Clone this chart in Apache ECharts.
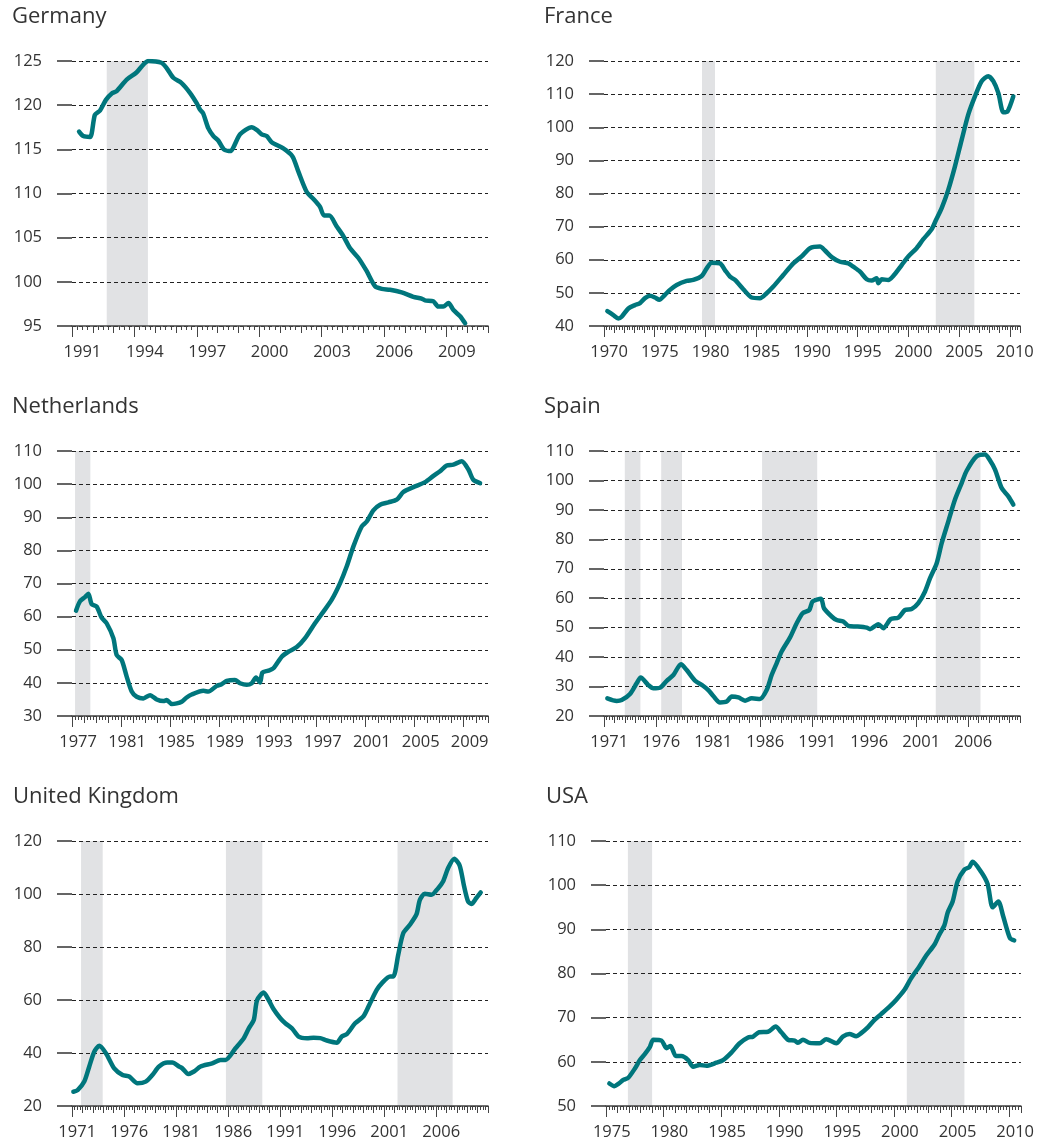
<!DOCTYPE html>
<html lang="en">
<head>
<meta charset="UTF-8">
<title>House price indices</title>
<script src="https://cdn.jsdelivr.net/npm/echarts@6/dist/echarts.min.js"></script>
<style>
  html, body { margin: 0; background: #fff; }
</style>
</head>
<body>
<div id="main" style="width:1037px;height:1144px;"></div>
<script>
// ---- data ----
const germanyYears = [1991.34,1991.54,1991.87,1992.1,1992.35,1992.63,1992.9,1993.15,1993.63,1994.1,1994.43,1994.67,1995.3,1995.55,1995.87,1996.27,1996.67,1997.0,1997.15,1997.3,1997.55,1997.8,1998.03,1998.3,1998.6,1999.08,1999.64,1999.88,2000.12,2000.36,2000.6,2001.16,2001.6,2001.88,2002.28,2002.6,2002.92,2003.12,2003.37,2003.72,2004.04,2004.37,2004.77,2005.17,2005.57,2005.89,2006.29,2006.85,2007.41,2007.81,2007.97,2008.37,2008.61,2008.85,2009.1,2009.34,2009.66,2009.9];
const germanyIndex = [117.0,116.5,116.4,118.9,119.4,120.6,121.3,121.6,122.9,123.7,124.6,125.0,124.8,124.2,123.1,122.5,121.4,120.2,119.5,119.1,117.4,116.5,116.0,115.0,114.8,116.7,117.5,117.2,116.7,116.5,115.8,115.1,114.2,112.5,110.2,109.4,108.5,107.5,107.5,106.3,105.2,103.8,102.7,101.2,99.5,99.2,99.1,98.8,98.3,98.1,97.9,97.8,97.2,97.2,97.6,96.8,96.1,95.3];
const germanyBands = [[1992.67, 1994.65]];

const franceYears = [1970.33,1970.92,1971.41,1971.74,1972.4,1973.05,1973.55,1974.04,1974.53,1975.03,1975.45,1976.01,1976.5,1977.16,1978.15,1978.8,1979.63,1980.12,1980.61,1981.43,1981.92,1982.42,1982.91,1983.73,1984.55,1985.37,1986.03,1986.69,1987.67,1988.66,1989.48,1990.3,1991.29,1991.78,1992.44,1993.26,1994.08,1994.57,1995.23,1995.89,1996.38,1996.87,1997.04,1997.37,1998.02,1998.51,1999.34,1999.99,2000.81,2001.47,2002.29,2002.72,2003.28,2003.93,2004.59,2005.25,2005.9,2006.56,2007.22,2007.88,2008.37,2008.87,2009.36,2009.78,2010.34];
const franceIndex = [44.5,43.3,42.3,42.8,45.3,46.3,46.9,48.4,49.1,48.6,47.9,49.4,50.9,52.4,53.6,53.9,55.1,57.4,59.1,58.9,56.9,54.9,53.9,51.1,48.6,48.4,49.9,51.9,55.4,58.9,61.0,63.5,64.0,62.8,60.8,59.4,58.9,57.9,56.4,54.1,53.7,54.4,52.9,54.1,53.9,55.1,58.4,61.0,63.5,66.2,69.2,72.0,75.6,81.1,88.2,96.2,103.8,109.3,113.9,115.4,113.9,110.3,104.5,104.8,109.3];
const franceBands = [[1979.66, 1980.94], [2002.7, 2006.5]];

const nlYears = [1977.33,1977.65,1978.06,1978.34,1978.6,1979.02,1979.42,1979.83,1980.38,1980.65,1981.06,1981.47,1981.88,1982.29,1982.83,1983.38,1983.92,1984.47,1984.74,1985.15,1985.56,1985.96,1986.37,1986.78,1987.74,1988.14,1988.83,1989.23,1989.64,1990.32,1990.73,1991.28,1991.69,1992.04,1992.37,1992.56,1993.05,1993.46,1994.14,1994.68,1995.37,1996.05,1996.86,1997.55,1998.23,1998.91,1999.45,2000.0,2000.68,2001.09,2001.63,2002.18,2002.86,2003.54,2004.08,2004.9,2005.86,2006.54,2007.08,2007.63,2008.17,2008.85,2009.4,2009.8,2010.35];
const nlIndex = [61.8,64.6,65.9,66.9,63.8,63.0,59.7,58.0,53.5,48.4,46.9,41.9,37.4,35.8,35.3,36.3,35.0,34.5,34.8,33.6,33.8,34.3,35.6,36.5,37.6,37.4,39.1,39.6,40.6,40.9,39.9,39.4,39.9,41.6,40.1,43.1,43.7,44.4,47.9,49.4,50.8,53.5,58.0,61.5,65.1,70.1,75.1,81.2,87.2,88.7,92.1,93.8,94.5,95.3,97.6,99.1,100.6,102.5,103.9,105.6,105.9,106.9,104.4,101.3,100.3];
const nlBands = [[1977.25, 1978.5]];

const spainYears = [1971.32,1972.22,1972.7,1973.5,1974.14,1974.53,1975.26,1975.74,1976.38,1977.03,1977.67,1978.4,1978.95,1979.75,1980.55,1981.03,1981.51,1982.15,1982.8,1983.28,1983.92,1984.56,1985.2,1986.0,1986.64,1987.12,1987.6,1988.08,1988.88,1989.53,1990.1,1990.74,1991.06,1991.87,1992.15,1992.89,1993.37,1994.01,1994.49,1995.29,1996.26,1996.58,1997.38,1997.86,1998.56,1999.3,1999.94,2000.58,2001.22,2001.87,2002.35,2002.99,2003.47,2004.11,2004.75,2005.39,2005.87,2006.83,2007.63,2008.12,2008.6,2009.24,2009.88,2010.36];
const spainIndex = [26.0,25.1,25.4,27.5,31.1,33.1,30.5,29.4,29.6,31.9,33.9,37.6,35.6,32.0,30.2,28.8,26.8,24.6,24.9,26.6,26.3,25.2,26.0,25.8,28.8,33.9,37.9,41.9,46.6,51.5,54.9,56.0,58.9,59.8,56.6,53.8,52.6,52.1,50.6,50.4,50.0,49.5,51.2,49.8,52.9,53.4,56.0,56.3,58.3,62.3,66.8,71.9,78.7,86.1,93.5,99.1,103.3,108.2,108.8,106.8,103.7,97.4,94.6,91.8];
const spainBands = [[1973.0, 1974.5], [1976.5, 1978.5], [1986.2, 1991.5], [2002.9, 2007.2]];

const ukYears = [1971.13,1971.54,1972.18,1972.66,1973.14,1973.62,1974.26,1975.06,1975.86,1976.5,1977.29,1978.09,1978.73,1979.37,1980.17,1980.65,1981.29,1981.61,1982.18,1982.73,1983.36,1984.48,1985.28,1985.76,1986.72,1987.52,1988.0,1988.48,1988.8,1989.43,1989.91,1990.39,1991.03,1991.51,1992.15,1992.79,1993.59,1994.23,1994.87,1995.5,1996.46,1996.94,1997.42,1998.22,1999.02,1999.66,2000.3,2000.78,2001.58,2001.9,2002.37,2002.85,2003.49,2004.13,2004.45,2004.93,2005.57,2006.21,2006.69,2007.17,2007.75,2008.28,2008.7,2009.08,2009.4,2009.88,2010.3];
const ukIndex = [25.4,26.0,29.2,34.9,40.5,42.7,39.9,34.2,31.7,31.1,28.6,29.2,31.7,34.9,36.4,36.4,34.9,34.2,32.1,33.0,34.9,36.1,37.4,37.4,41.8,45.6,49.3,52.5,60.0,62.8,60.0,56.5,53.1,51.2,49.3,46.2,45.6,45.8,45.6,44.7,43.9,46.2,47.1,51.2,53.8,58.8,63.8,66.3,68.9,68.9,77.1,85.2,88.4,92.4,97.8,100.1,99.7,102.2,104.8,109.8,113.3,110.7,102.9,97.2,96.2,98.5,100.6];
const ukBands = [[1971.87, 1973.95], [1985.8, 1989.3], [2002.3, 2007.6]];

const usaYears = [1975.29,1975.72,1976.07,1976.5,1976.93,1977.51,1977.94,1978.38,1978.81,1979.1,1979.82,1980.25,1980.6,1981.06,1981.55,1982.13,1982.56,1983.14,1983.72,1984.58,1985.16,1985.88,1986.6,1987.33,1987.76,1988.28,1989.06,1989.72,1990.21,1990.79,1991.37,1991.66,1992.09,1992.67,1993.53,1994.11,1994.98,1995.55,1996.13,1996.71,1997.14,1997.72,1998.3,1998.87,1999.6,2000.17,2000.9,2001.47,2002.19,2002.77,2003.49,2003.92,2004.36,2004.65,2005.08,2005.51,2006.09,2006.52,2006.81,2007.53,2008.11,2008.55,2009.04,2009.47,2010.05,2010.42];
const usaIndex = [55.1,54.5,55.0,55.9,56.4,58.5,60.4,61.8,63.4,65.0,64.8,63.1,63.6,61.3,61.3,60.4,58.9,59.3,59.1,59.8,60.4,62.1,64.2,65.5,65.7,66.7,66.8,68.0,66.7,65.0,64.8,64.3,65.0,64.3,64.2,65.1,64.2,65.7,66.3,65.8,66.5,67.8,69.5,70.8,72.5,74.0,76.3,78.9,81.6,84.0,86.5,88.8,90.9,93.8,96.3,100.9,103.5,104.1,105.3,103.1,100.3,95.0,96.3,92.9,88.0,87.5];
const usaBands = [[1976.9, 1979.0], [2001.1, 2006.1]];

// x tick labels (years)
const germanyLabels = [1991, 1994, 1997, 2000, 2003, 2006, 2009];
const franceLabels = [1970, 1975, 1980, 1985, 1990, 1995, 2000, 2005, 2010];
const nlLabels = [1977, 1981, 1985, 1989, 1993, 1997, 2001, 2005, 2009];
const spainLabels = [1971, 1976, 1981, 1986, 1991, 1996, 2001, 2006];
const ukLabels = [1971, 1976, 1981, 1986, 1991, 1996, 2001, 2006];
const usaLabels = [1975, 1980, 1985, 1990, 1995, 2000, 2005, 2010];

// ---- layout ----
const FONT = '"Open Sans", "Liberation Sans", sans-serif';
const TEXT = '#333';
const TEAL = '#00767c';
const BAND = '#e1e2e4';

const panels = [
  { name: 'Germany', years: germanyYears, values: germanyIndex, bands: germanyBands, labels: germanyLabels,
    xMin: 1991, xMax: 2011, yMin: 95, yMax: 125, yStep: 5, left: 72, top: 61, tx: 12, ty: 6 },
  { name: 'France', years: franceYears, values: franceIndex, bands: franceBands, labels: franceLabels,
    xMin: 1970, xMax: 2011, yMin: 40, yMax: 120, yStep: 10, left: 604, top: 61, tx: 544, ty: 6 },
  { name: 'Netherlands', years: nlYears, values: nlIndex, bands: nlBands, labels: nlLabels,
    xMin: 1977, xMax: 2011, yMin: 30, yMax: 110, yStep: 10, left: 72, top: 451, tx: 12, ty: 396 },
  { name: 'Spain', years: spainYears, values: spainIndex, bands: spainBands, labels: spainLabels,
    xMin: 1971, xMax: 2011, yMin: 20, yMax: 110, yStep: 10, left: 604, top: 451, tx: 544, ty: 396 },
  { name: 'United Kingdom', years: ukYears, values: ukIndex, bands: ukBands, labels: ukLabels,
    xMin: 1971, xMax: 2011, yMin: 20, yMax: 120, yStep: 20, left: 72, top: 841, tx: 13, ty: 786 },
  { name: 'USA', years: usaYears, values: usaIndex, bands: usaBands, labels: usaLabels,
    xMin: 1975, xMax: 2011, yMin: 50, yMax: 110, yStep: 10, left: 606, top: 841, tx: 546, ty: 786 }
];

const option = {
  backgroundColor: '#fff',
  animation: false,
  title: [], grid: [], xAxis: [], yAxis: [], series: []
};

panels.forEach(function (p, i) {
  option.title.push({
    text: p.name, left: p.tx, top: p.ty, padding: 0,
    textStyle: { fontFamily: FONT, fontSize: 22, fontWeight: 'normal', color: TEXT }
  });
  option.grid.push({ left: p.left, top: p.top, width: 416, height: 265 });

  // main x axis: year ticks, quarter minor ticks, labels centred in the year
  option.xAxis.push({
    type: 'value', gridIndex: i, position: 'bottom', min: p.xMin, max: p.xMax, interval: 1, z: 2,
    axisLine: { lineStyle: { color: '#444', width: 1.5 } },
    axisTick: { length: 7, lineStyle: { color: '#444', width: 1 } },
    minorTick: { show: true, splitNumber: 4, length: 4, lineStyle: { color: '#444', width: 1 } },
    splitLine: { show: false },
    axisLabel: {
      customValues: p.labels.map(function (y) { return y + 0.5; }),
      formatter: function (v) { return String(Math.floor(v)); },
      margin: 18, fontFamily: FONT, fontSize: 16.5, color: TEXT
    }
  });
  // second x axis: longer ticks at labelled years
  option.xAxis.push({
    type: 'value', gridIndex: i, position: 'bottom', min: p.xMin, max: p.xMax, z: 2,
    axisLine: { show: false },
    axisTick: { customValues: p.labels, length: 11, lineStyle: { color: '#444', width: 1 } },
    axisLabel: { show: false },
    splitLine: { show: false }
  });
  option.yAxis.push({
    type: 'value', gridIndex: i, min: p.yMin, max: p.yMax, interval: p.yStep, z: 2,
    axisLine: { show: false },
    axisTick: { show: true, length: 15, lineStyle: { color: '#333', width: 1.5 } },
    splitLine: { show: true, lineStyle: { color: '#222', width: 1, type: [4, 3] } },
    axisLabel: { margin: 30, fontFamily: FONT, fontSize: 16.5, color: TEXT }
  });
  option.series.push({
    type: 'line', xAxisIndex: 2 * i, yAxisIndex: i, z: 3,
    data: p.years.map(function (y, k) { return [y, p.values[k]]; }),
    showSymbol: false, smooth: 0.25,
    lineStyle: { color: TEAL, width: 4.5, cap: 'round', join: 'round' },
    markArea: {
      silent: true, z: 1,
      itemStyle: { color: BAND },
      data: p.bands.map(function (b) { return [{ xAxis: b[0] }, { xAxis: b[1] }]; })
    }
  });
});

const chart = echarts.init(document.getElementById('main'), null, { renderer: 'canvas' });
chart.setOption(option);
</script>
</body>
</html>
